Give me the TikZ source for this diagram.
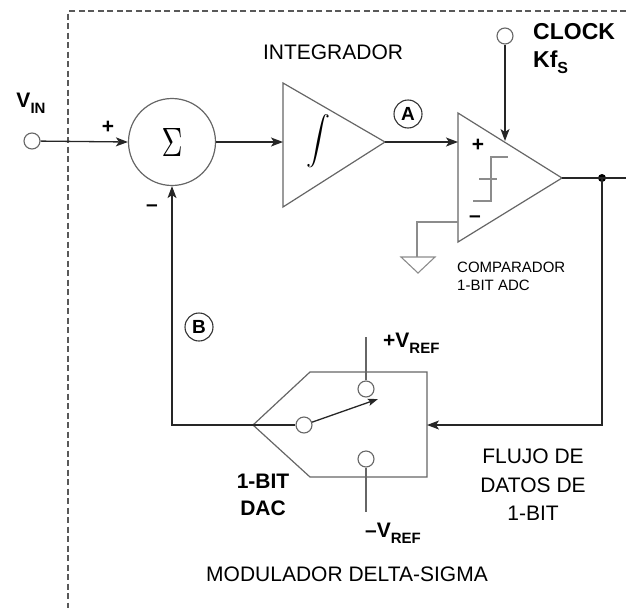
\documentclass[tikz,border=0pt]{standalone}
\usepackage{fontspec}
\usepackage{graphicx}
\setmainfont{Liberation Sans}
\usetikzlibrary{arrows.meta}
\begin{document}
\begin{tikzpicture}[x=1pt,y=-1pt,
  wire/.style={line width=1.3pt, draw=black!85},
  outline/.style={line width=1.2pt, draw=black!60},
  greyline/.style={line width=1.1pt, draw=black!45},
  boxline/.style={line width=1.2pt, draw=black!65, dash pattern=on 6pt off 3.5pt},
  arr/.style={-{Stealth[length=12pt,width=9pt,inset=3pt]}},
  port/.style={circle, draw=black!60, line width=1.1pt, fill=white, minimum size=16pt, inner sep=0pt},
  tag/.style={circle, draw=black!80, line width=1.1pt, minimum size=28pt, inner sep=0pt, font=\fontsize{19}{19}\selectfont\bfseries},
  lbl/.style={font=\fontsize{21}{21}\selectfont, inner sep=0pt},
  blbl/.style={font=\fontsize{21}{21}\selectfont\bfseries, inner sep=0pt},
  clbl/.style={font=\fontsize{23}{23}\selectfont\bfseries, inner sep=0pt},
  small/.style={font=\fontsize{15}{15}\selectfont, inner sep=0pt},
  sign/.style={font=\fontsize{21}{21}\selectfont\bfseries, inner sep=0pt}
]
\useasboundingbox (0,0) rectangle (626,608);
% dashed module boundary
\draw[boxline] (626,11) -- (68,11) -- (68,608);

% input
\node[port] (vin) at (32,141) {};
\node[blbl, anchor=base] (vinlbl) at (31,107) {V\raisebox{-6pt}{\fontsize{15}{15}\selectfont IN}};
\node[sign] (plus1) at (108,127) {+};

% summing junction
\node[circle, outline, minimum size=87pt, inner sep=0pt] (sum) at (172,142) {\scalebox{2.9}[4.1]{$\Sigma$}};
\node[sign] (minus1) at (152,208) {\textendash};
\draw[wire, arr] (vin) -- (sum.west);

% integrator
\draw[outline] (283,83) -- (283,207) -- (385,142) -- cycle;
\coordinate (intin) at (283,142);
\coordinate (intout) at (385,142);
\node (intsym) at (318,141) {\scalebox{2.4}{$\displaystyle\int$}};
\node[lbl, anchor=base] (intlbl) at (333,59) {INTEGRADOR};
\draw[wire, arr] (sum.east) -- (intin);

% point A
\node[tag] (A) at (408,114) {A};

% comparator
\draw[outline] (458,113) -- (458,242) -- (562,178) -- cycle;
\coordinate (cmpin) at (458,142);
\coordinate (cmpneg) at (458,222);
\coordinate (cmpout) at (562,178);
\coordinate (clkin) at (505,141);
\draw[wire, arr] (intout) -- (cmpin);
\node[sign] (plus2) at (478,145) {+};
\node[sign] (minus2) at (475,219) {\textendash};
\draw[greyline] (473,201) -- (491,201) -- (491,157) -- (508,157);
\draw[greyline] (479,179) -- (497,179);
\node[small, anchor=base west] (cmplbl1) at (457,272) {COMPARADOR};
\node[small, anchor=base west] (cmplbl2) at (457,290) {1-BIT ADC};

% ground
\coordinate (gndtop) at (417,257);
\draw[greyline] (cmpneg) -- (417,222) -- (gndtop);
\draw[greyline] (401,257) -- (435,257) -- (418,273) -- cycle;

% clock
\node[port] (clk) at (505,36) {};
\draw[wire, arr] (clk) -- (clkin);
\node[clbl, anchor=base west] (clklbl) at (533,39) {CLOCK};
\node[clbl, anchor=base west] (kfs) at (533,67) {Kf\raisebox{-6pt}{\fontsize{16}{16}\selectfont S}};

% output and node dot
\coordinate (outend) at (626,178);
\node[circle, fill=black, minimum size=8pt, inner sep=0pt] (dot) at (602,178) {};
\draw[wire] (cmpout) -- (outend);

% DAC
\draw[outline] (253,425) -- (310,372) -- (427,372) -- (427,477) -- (310,477) -- cycle;
\coordinate (dacin) at (427,425);
\coordinate (swtip) at (378,399);
\node[port] (sw) at (304,425) {};
\node[port] (swp) at (366,389) {};
\node[port] (swn) at (366,459) {};
\draw[outline] (swp.north) -- (366,337);
\draw[outline] (swn.south) -- (366,512);
\draw[wire, -{Stealth[length=10pt,width=7pt,inset=2pt]}] (sw) -- (swtip);
\draw[wire, arr] (dot.center) -- (602,425) -- (dacin);
\draw[wire, arr] (sw.west) -- (172,425) -- (sum.south);

% point B
\node[tag] (B) at (199,327) {B};

% labels
\node[blbl, anchor=base west] (vrefp) at (383,347) {+V\raisebox{-6pt}{\fontsize{15}{15}\selectfont REF}};
\node[blbl, anchor=base west] (vrefn) at (365,537) {\textendash V\raisebox{-6pt}{\fontsize{15}{15}\selectfont REF}};
\node[blbl, anchor=base] (dac1) at (263,488) {1-BIT};
\node[blbl, anchor=base] (dac2) at (263,515) {DAC};
\node[lbl, anchor=base] (fl1) at (533,463) {FLUJO DE};
\node[lbl, anchor=base] (fl2) at (533,492) {DATOS DE};
\node[lbl, anchor=base] (fl3) at (533,520) {1-BIT};
\node[lbl, anchor=base] (mod) at (347,581) {MODULADOR DELTA-SIGMA};
\end{tikzpicture}
\end{document}
